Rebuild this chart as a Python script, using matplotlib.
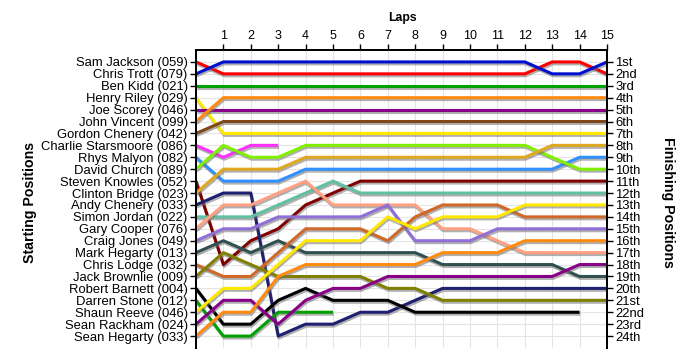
import matplotlib
matplotlib.use('Agg')
import matplotlib.pyplot as plt
import matplotlib.patheffects as pe

plt.rcParams['font.family'] = ['Liberation Sans', 'DejaVu Sans']

# starting grid, top to bottom
drivers = ['Sam Jackson (059)', 'Chris Trott (079)', 'Ben Kidd (021)', 'Henry Riley (029)',
           'Joe Scorey (046)', 'John Vincent (099)', 'Gordon Chenery (042)',
           'Charlie Starsmoore (086)', 'Rhys Malyon (082)', 'David Church (089)',
           'Steven Knowles (052)', 'Clinton Bridge (023)', 'Andy Chenery (033)',
           'Simon Jordan (022)', 'Gary Cooper (076)', 'Craig Jones (049)',
           'Mark Hegarty (013)', 'Chris Lodge (032)', 'Jack Brownlie (009)',
           'Robert Barnett (004)', 'Darren Stone (012)', 'Shaun Reeve (046)',
           'Sean Rackham (024)', 'Sean Hegarty (033)']

colors = ['#ff0000', '#0010d0', '#00a000', '#ffe800', '#880088', '#ff8a10', '#804818',
          '#ff30ff', '#3090ff', '#80f000', '#800000', '#e0a820', '#202070', '#60c0a0',
          '#ffa080', '#9070d8', '#305050', '#d06828', '#808000', '#000000',
          '#00a000', '#ffe800', '#880088', '#ff8a10']

# position at the end of each lap (index 0 = grid); shorter lists = retired
positions = [
    [1, 2, 2, 2, 2, 2, 2, 2, 2, 2, 2, 2, 2, 1, 1, 2],
    [2, 1, 1, 1, 1, 1, 1, 1, 1, 1, 1, 1, 1, 2, 2, 1],
    [3, 3, 3, 3, 3, 3, 3, 3, 3, 3, 3, 3, 3, 3, 3, 3],
    [4, 7, 7, 7, 7, 7, 7, 7, 7, 7, 7, 7, 7, 7, 7, 7],
    [5, 5, 5, 5, 5, 5, 5, 5, 5, 5, 5, 5, 5, 5, 5, 5],
    [6, 4, 4, 4, 4, 4, 4, 4, 4, 4, 4, 4, 4, 4, 4, 4],
    [7, 6, 6, 6, 6, 6, 6, 6, 6, 6, 6, 6, 6, 6, 6, 6],
    [8, 9, 8, 8],
    [9, 11, 11, 11, 10, 10, 10, 10, 10, 10, 10, 10, 10, 10, 9, 9],
    [10, 8, 9, 9, 8, 8, 8, 8, 8, 8, 8, 8, 8, 9, 10, 10],
    [11, 18, 16, 15, 13, 12, 11, 11, 11, 11, 11, 11, 11, 11, 11, 11],
    [12, 10, 10, 10, 9, 9, 9, 9, 9, 9, 9, 9, 9, 8, 8, 8],
    [13, 12, 12, 24, 23, 23, 22, 22, 21, 20, 20, 20, 20, 20, 20, 20],
    [14, 14, 14, 13, 12, 11, 12, 12, 12, 12, 12, 12, 12, 12, 12, 12],
    [15, 13, 13, 12, 11, 13, 13, 13, 13, 15, 15, 16, 17, 17, 17, 17],
    [16, 15, 15, 14, 14, 14, 14, 13, 16, 16, 16, 15, 15, 15, 15, 15],
    [17, 16, 17, 16, 17, 17, 17, 17, 17, 18, 18, 18, 18, 18, 19, 19],
    [18, 19, 19, 17, 15, 15, 15, 16, 14, 13, 13, 13, 14, 14, 14, 14],
    [19, 17, 18, 19, 19, 19, 19, 20, 20, 21, 21, 21, 21, 21, 21, 21],
    [20, 23, 23, 21, 20, 21, 21, 21, 22, 22, 22, 22, 22, 22, 22],
    [21, 24, 24, 22, 22, 22],
    [22, 20, 20, 18, 16, 16, 16, 14, 15, 14, 14, 14, 13, 13, 13, 13],
    [23, 21, 21, 23, 21, 20, 20, 19, 19, 19, 19, 19, 19, 19, 18, 18],
    [24, 22, 22, 19, 18, 18, 18, 18, 18, 17, 17, 17, 16, 16, 16, 16],
]

laps = list(range(1, 16))
finish_labels = ['1st', '2nd', '3rd'] + [f'{i}th' for i in range(4, 21)] + ['21st', '22nd', '23rd', '24th']

fig = plt.figure(figsize=(7, 3.6), dpi=100)
ax = fig.add_axes([196 / 700, 12 / 360, 411 / 700, 298 / 360])

shadow = [pe.SimpleLineShadow(offset=(0.6, -1.4), shadow_color='#707070', alpha=0.55), pe.Normal()]
for pos, col in zip(positions, colors):
    ax.plot(range(len(pos)), pos, color=col, lw=2.2, solid_joinstyle='round',
            solid_capstyle='butt', path_effects=shadow, zorder=3)

ax.set_xlim(0, 15)
ax.set_ylim(25, 0)
ax.xaxis.tick_top()
ax.set_xticks(laps)
ax.set_yticks(range(1, 25))
ax.set_yticklabels(drivers)
ax.tick_params(axis='y', labelsize=9.4, length=4, width=1, direction='out', pad=2)
ax.tick_params(axis='x', labelsize=9, length=4, width=1, direction='out', pad=2)
ax.grid(color='#e4e4e4', lw=0.8, zorder=0)
ax.set_axisbelow(True)
ax.spines['bottom'].set_visible(False)
for s in ['left', 'right', 'top']:
    ax.spines[s].set_linewidth(1.4)

ax2 = ax.twinx()
ax2.set_ylim(25, 0)
ax2.set_yticks(range(1, 25))
ax2.set_yticklabels(finish_labels)
ax2.tick_params(axis='y', labelsize=9.4, length=4, width=1, direction='out', pad=2)
ax2.spines['bottom'].set_visible(False)
for s in ['left', 'right', 'top']:
    ax2.spines[s].set_linewidth(1.4)

fig.text(402 / 700, 1 - 18 / 360, 'Laps', ha='center', va='center', fontsize=8.8, fontweight='bold')
fig.text(30 / 700, 1 - 202 / 360, 'Starting Positions', ha='center', va='center',
         rotation=90, fontsize=10.2, fontweight='bold')
fig.text(668 / 700, 1 - 202 / 360, 'Finishing Positions', ha='center', va='center',
         rotation=270, fontsize=10.2, fontweight='bold')

fig.savefig('out.png', dpi=100)
